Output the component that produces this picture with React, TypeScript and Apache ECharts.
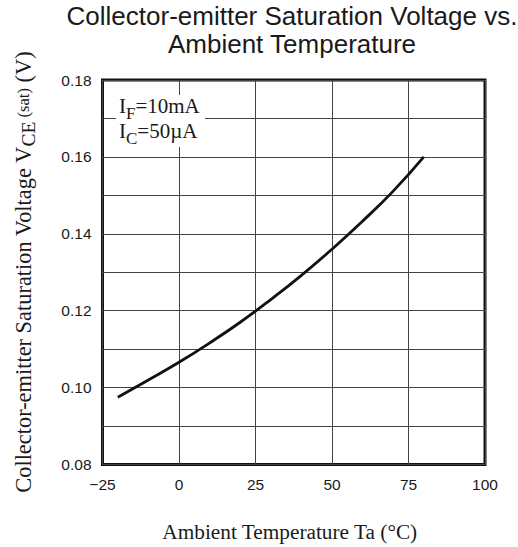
import React, { useEffect, useRef } from "react";
import * as echarts from "echarts";

const temps = [-20, -10, 0, 10, 20, 30, 40, 50, 60, 70, 80];
const vceSat = [0.0975, 0.102, 0.1066, 0.1116, 0.117, 0.1229, 0.1292, 0.136, 0.1433, 0.1511, 0.16];
const xTicks = { min: -25, max: 100, interval: 25 };
const yTicks = { min: 0.08, max: 0.18, interval: 0.02 };
const titleText = "Collector-emitter Saturation Voltage vs.\nAmbient Temperature";
const xName = "Ambient Temperature Ta (°C)";
const conditions = [
  ["I", "F", "=10mA"],
  ["I", "C", "=50µA"],
];

const SERIF = "'Liberation Serif', 'Times New Roman', serif";
const SANS = "'Liberation Sans', Arial, sans-serif";

export default function App() {
  const ref = useRef<HTMLDivElement>(null);
  useEffect(() => {
    if (!ref.current) return;
    const chart = echarts.init(ref.current, null, { renderer: "svg" });
    const data = temps.map((t, i) => [t, vceSat[i]]);
    const richN = { fontFamily: SERIF, fontSize: 21, fill: "#1a1a1a", lineHeight: 22 };
    const richS = { fontFamily: SERIF, fontSize: 17, fill: "#1a1a1a", lineHeight: 17, padding: [14, 0, 0, 0] };
    chart.setOption({
      animation: false,
      backgroundColor: "#fff",
      title: {
        text: titleText,
        left: 287,
        top: -3,
        textAlign: "center",
        textStyle: { fontFamily: SANS, fontSize: 26, lineHeight: 28, fontWeight: "normal", color: "#1a1a1a" },
      },
      grid: { left: 98, right: 33, top: 80, bottom: 82, show: true, borderColor: "#111", borderWidth: 3, backgroundColor: "transparent" },
      xAxis: {
        type: "value",
        min: xTicks.min,
        max: xTicks.max,
        interval: xTicks.interval,
        name: xName,
        nameLocation: "middle",
        nameGap: 56.5,
        nameTextStyle: { fontFamily: SERIF, fontSize: 21.3, color: "#1a1a1a", padding: [0, 8, 0, 0] },
        axisLine: { show: false, onZero: false },
        axisTick: { show: false },
        axisLabel: {
          margin: 12,
          fontFamily: SANS,
          fontSize: 15.5,
          color: "#1a1a1a",
          formatter: (v: number) => String(v).replace("-", "\u2212"),
        },
        splitLine: { show: true, lineStyle: { color: "#444", width: 1 } },
      },
      yAxis: {
        type: "value",
        min: yTicks.min,
        max: yTicks.max,
        interval: yTicks.interval,
        name: "{n|Collector-emitter Saturation Voltage V}{s|CE}{m| (sat)}{n| (V)}",
        nameLocation: "middle",
        nameRotate: 90,
        nameGap: 67,
        nameTextStyle: {
          fontFamily: SERIF,
          fontSize: 22.4,
          color: "#1a1a1a",
          rich: {
            n: { fontFamily: SERIF, fontSize: 22.4, color: "#1a1a1a", lineHeight: 25 },
            s: { fontFamily: SERIF, fontSize: 19.5, color: "#1a1a1a", lineHeight: 19.5, padding: [10, 0, 0, 0] },
            m: { fontFamily: SERIF, fontSize: 16.5, color: "#1a1a1a", lineHeight: 16.5 },
          },
        },
        axisLine: { show: false, onZero: false },
        axisTick: { show: false },
        axisLabel: {
          margin: 11,
          fontFamily: SANS,
          fontSize: 15.5,
          color: "#1a1a1a",
          formatter: (v: number) => v.toFixed(2),
        },
        splitLine: { show: true, lineStyle: { color: "#444", width: 1 } },
        minorTick: { show: false, splitNumber: 2 },
        minorSplitLine: { show: true, lineStyle: { color: "#444", width: 1 } },
      },
      series: [
        {
          type: "line",
          data,
          smooth: 0.5,
          showSymbol: false,
          symbol: "none",
          lineStyle: { color: "#111", width: 2.8 },
          z: 5,
        },
      ],
      graphic: [
        {
          type: "rect",
          shape: { x: 116, y: 95, width: 89, height: 52 },
          style: { fill: "#fff" },
          z: 90,
        },
        ...conditions.map((c, i) => ({
          type: "text",
          x: 119,
          y: 95 + i * 25,
          z: 100,
          style: {
            text: `{n|${c[0]}}{s|${c[1]}}{n|${c[2]}}`,
            rich: { n: richN, s: richS },
            fill: "#1a1a1a",
          },
        })),
      ],
    });
    return () => chart.dispose();
  }, []);
  return <div ref={ref} style={{ position: "absolute", left: 0, top: 0, width: 518, height: 547 }} />;
}
